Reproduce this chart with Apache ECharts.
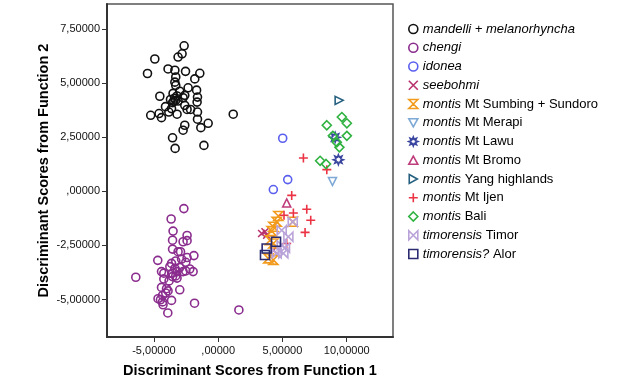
<!DOCTYPE html>
<html><head><meta charset="utf-8">
<script src="https://cdn.jsdelivr.net/npm/echarts@6/dist/echarts.min.js"></script>
<style>html,body{margin:0;padding:0;background:#fff}#c{width:630px;height:383px}</style>
</head><body><div id="c"></div>
<script>
// ---- data ----
const xTicks = [-5, 0, 5, 10];
const yTicks = [-5, -2.5, 0, 2.5, 5, 7.5];
const xTitle = 'Discriminant Scores from Function 1';
const yTitle = 'Discriminant Scores from Function 2';

const labelItalic = ['mandelli + melanorhyncha','chengi','idonea','seebohmi','montis','montis','montis','montis','montis','montis','montis','timorensis','timorensis?'];
const labelRest = ['','','','',' Mt Sumbing + Sundoro',' Mt Merapi',' Mt Lawu',' Mt Bromo',' Yang highlands',' Mt Ijen',' Bali',' Timor',' Alor'];
const colors = ['#111111','#8a2d8e','#5b5fee','#b8326f','#f29a1c','#7ea9d6','#3a45a0','#c03d7c','#256080','#ec3344','#2fb240','#b9a3d9','#2b2b72'];

const mandelli = [[-2.65,6.72],[-2.81,6.35],[-3.12,6.20],[-4.93,6.11],[-5.50,5.44],[-3.90,5.65],[-3.37,5.59],[-2.54,5.54],[-1.43,5.45],[-1.82,5.19],[-3.30,5.28],[-3.37,5.04],[-3.30,4.89],[-2.34,4.78],[-1.68,4.67],[-2.99,4.62],[-3.51,4.52],[-2.60,4.43],[-4.54,4.39],[-1.61,4.35],[-3.71,4.24],[-3.30,4.20],[-2.73,4.32],[-3.12,4.17],[-3.55,4.09],[-1.64,4.12],[-2.60,3.97],[-4.10,3.91],[-2.42,3.78],[-2.15,3.78],[-3.63,3.82],[-3.84,3.66],[-1.61,3.66],[-4.60,3.59],[-5.25,3.51],[-4.41,3.40],[-3.20,3.56],[1.17,3.56],[-1.61,3.33],[-0.78,3.14],[-2.60,3.05],[-2.73,2.82],[-1.35,2.94],[-3.55,2.47],[-3.35,1.98],[-1.11,2.12],[-3.40,4.30],[-3.20,4.40],[-3.45,4.15]];
const chengi = [[-2.67,-0.80],[-3.66,-1.28],[-3.51,-1.84],[-2.42,-2.04],[-3.55,-2.26],[-2.73,-2.33],[-2.42,-2.28],[-3.55,-2.67],[-3.12,-2.79],[-2.93,-2.79],[-1.89,-2.97],[-2.42,-3.06],[-4.70,-3.19],[-2.85,-3.13],[-3.30,-3.22],[-3.63,-3.33],[-2.52,-3.28],[-3.76,-3.48],[-3.37,-3.56],[-2.99,-3.52],[-2.21,-3.59],[-4.41,-3.71],[-4.23,-3.78],[-3.55,-3.78],[-3.20,-3.71],[-2.73,-3.71],[-2.52,-3.68],[-1.95,-3.71],[-3.30,-3.91],[-3.55,-3.94],[-6.41,-3.97],[-4.23,-4.05],[-3.20,-4.01],[-3.82,-4.14],[-4.41,-4.44],[-4.02,-4.50],[-3.90,-4.60],[-2.99,-4.55],[-4.08,-4.70],[-4.33,-4.81],[-4.68,-4.96],[-4.49,-5.01],[-3.63,-5.04],[-4.33,-5.11],[-4.29,-5.24],[-1.84,-5.17],[-3.92,-5.62],[1.61,-5.48]];
const idonea = [[5.02,2.45],[5.41,0.54],[4.29,0.08]];
const seebohmi = [[3.38,-1.95],[3.64,-1.87],[3.77,-2.03],[4.29,-2.72]];
const sumbing = [[4.68,-1.14],[4.55,-1.41],[4.29,-1.64],[4.16,-1.84],[5.80,-1.41],[4.03,-2.26],[4.29,-2.41],[3.90,-3.10],[4.29,-3.17]];
const merapi = [[8.89,0.45]];
const lawu = [[9.10,2.49],[9.35,1.46]];
const bromo = [[5.33,-0.54]];
const yang = [[9.41,4.20]];
const ijen = [[6.63,1.54],[8.45,1.00],[5.72,-0.19],[5.85,-1.00],[6.89,-0.83],[7.20,-1.34],[6.76,-1.90],[5.12,-1.11],[5.33,-2.41]];
const bali = [[9.62,3.43],[10.01,3.14],[8.45,3.05],[8.92,2.56],[10.01,2.56],[9.23,2.26],[9.43,2.03],[7.93,1.41],[8.39,1.26]];
const timor = [[4.94,-1.80],[5.46,-2.10],[5.80,-1.41],[4.94,-2.49],[5.20,-2.61],[5.07,-2.87],[4.55,-2.87]];
const alor = [[4.50,-2.33],[3.77,-2.64],[3.64,-2.94]];
const groups = [mandelli,chengi,idonea,seebohmi,sumbing,merapi,lawu,bromo,yang,ijen,bali,timor,alor];

// ---- symbols ----
function starPath(){
  let p = '';
  for (let k=0;k<16;k++){
    const r = k%2===0 ? 5 : 2.6;
    const a = Math.PI*2*k/16 - Math.PI/2;
    p += (k===0?'M':'L') + (5+r*Math.cos(a)).toFixed(2)+','+(5+r*Math.sin(a)).toFixed(2);
  }
  return 'path://'+p+'Z';
}
const symbols = [
  'circle','circle','circle',
  'path://M0,0L10,10M10,0L0,10',
  'path://M0,0L10,0L5,5L10,10L0,10L5,5Z',
  'path://M0,0L10,0L5,9Z',
  starPath(),
  'path://M5,0L10,9L0,9Z',
  'path://M0,0L9,5L0,10Z',
  'path://M5,0L5,10M0,5L10,5',
  'diamond',
  'path://M0,0L5,5L0,10ZM10,0L5,5L10,10Z',
  'rect'
];
const sizes = [8,8,8,7,9,8,10,8,8,9,9,9,9];

const fmt = v => { let s = Math.abs(v).toFixed(5).replace('.', ','); if (s.startsWith('0,')) s = s.slice(1); return (v<0?'-':'')+s; };

const series = groups.map((g,i)=>({
  name: labelItalic[i]+labelRest[i],
  type:'scatter',
  data:g,
  symbol:symbols[i],
  symbolSize:sizes[i],
  itemStyle:{color:'rgba(255,255,255,0)', borderColor:colors[i], borderWidth:1.6, opacity:1},
  emphasis:{disabled:true},
  z: 2
}));

const chart = echarts.init(document.getElementById('c'), null, {renderer:'canvas'});
chart.setOption({
  animation:false,
  backgroundColor:'#fff',
  textStyle:{fontFamily:'Liberation Sans, Arial, sans-serif'},
  grid:{left:107, top:4, right:237, bottom:44, show:true, borderColor:'#555', borderWidth:1.5, containLabel:false},
  xAxis:{
    type:'value', min:-8.65, max:13.6,
    splitLine:{show:false},
    axisLine:{onZero:false, lineStyle:{color:'#333', width:2}},
    axisTick:{show:true, length:5, lineStyle:{color:'#333'}, customValues:xTicks},
    axisLabel:{color:'#111', fontSize:11, margin:8, customValues:xTicks, formatter:fmt},
    name:xTitle, nameLocation:'middle', nameGap:26,
    nameTextStyle:{fontSize:14.5, fontWeight:'bold', color:'#000'}
  },
  yAxis:{
    type:'value', min:-6.73, max:8.65,
    splitLine:{show:false},
    axisLine:{onZero:false, lineStyle:{color:'#333', width:2}},
    axisTick:{show:true, length:5, lineStyle:{color:'#333'}, customValues:yTicks},
    axisLabel:{color:'#111', fontSize:11, margin:7, customValues:yTicks, formatter:fmt},
    name:yTitle, nameLocation:'middle', nameGap:56,
    nameTextStyle:{fontSize:14.5, fontWeight:'bold', color:'#000'}
  },
  legend:{
    orient:'vertical', left:403, top:17, itemGap:4.75,
    itemWidth:9, itemHeight:9,
    selectedMode:false,
    textStyle:{fontSize:13, color:'#000', lineHeight:14,
      rich:{i:{fontStyle:'italic', fontSize:13, color:'#000'}, n:{fontSize:13, color:'#000'}}},
    formatter: name => {
      const i = series.findIndex(s=>s.name===name);
      return '{i|'+labelItalic[i]+'}'+(labelRest[i]?'{n|'+labelRest[i]+'}':'');
    },
    data: series.map((s,i)=>({name:s.name, icon:symbols[i],
      itemStyle:{color:'rgba(255,255,255,0)', borderColor:colors[i], borderWidth:1.6}}))
  },
  series
});
</script></body></html>
